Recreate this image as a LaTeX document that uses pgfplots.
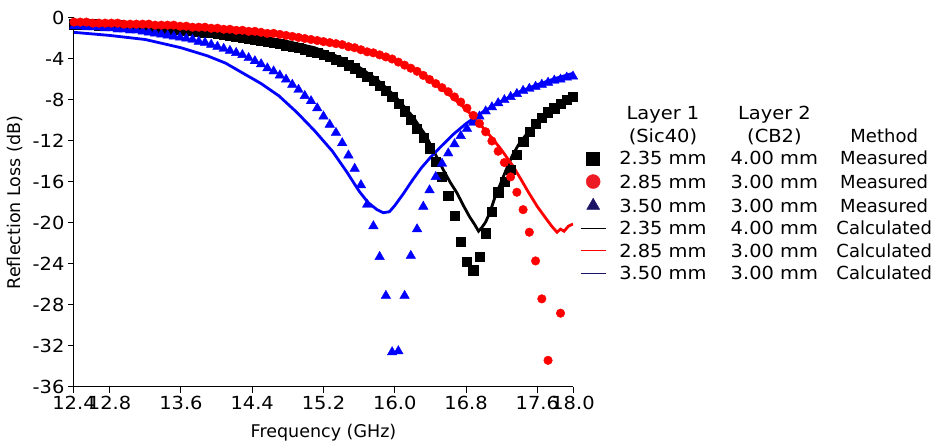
\documentclass[border=0pt]{standalone}
\usepackage{fontspec}
\setmainfont{DejaVu Sans}
\newfontfamily\wide{DejaVu Sans}[FakeStretch=1.08]
\newfontfamily\narrow{DejaVu Sans}[FakeStretch=1.0]
\usepackage{pgfplots}
\pgfplotsset{compat=1.18}
\definecolor{legred}{HTML}{ED1C24}
\definecolor{navy}{HTML}{1B1464}
\pgfplotsset{
  leg/.style={legend image code/.code={\draw[mark repeat=2,mark phase=2,##1] plot coordinates {(0pt,0pt)(12.5pt,0pt)(25pt,0pt)};}},
  legline/.style={legend image code/.code={\draw[##1, draw=#1, line width=1pt] (0pt,0pt) -- (25pt,0pt);}},
}
\newcommand{\cols}[3]{\makebox[111.5pt][c]{#1}\makebox[111.5pt][c]{#2}\makebox[108pt][c]{\narrow #3}}
\begin{document}
\begin{tikzpicture}
\path[use as bounding box] (-74pt,-56pt) rectangle (861pt,387pt);
\begin{axis}[
  scale only axis, width=499pt, height=369pt,
  xmin=12.4, xmax=18.0, ymin=-36, ymax=0,
  axis x line*=bottom, axis y line*=left,
  axis line style={-, line width=1pt},
  tick align=outside, major tick length=6pt,
  tick style={line width=1pt, black},
  xtick={12.4,12.8,13.6,14.4,15.2,16.0,16.8,17.6,18.0},
  ytick={-36,-32,...,0},
  xticklabel style={/pgf/number format/fixed, /pgf/number format/fixed zerofill, /pgf/number format/precision=1},
  /pgf/number format/assume math mode=true,
  ticklabel style={font=\fontsize{18}{20}\wide},
  xlabel={Frequency (GHz)}, ylabel={Reflection Loss (dB)},
  label style={font=\fontsize{17.5}{20}\selectfont},
  xlabel style={yshift=-7pt},
  ylabel style={yshift=3pt},
  legend cell align=left,
  legend style={at={(1.014,0.760)}, anchor=north west, draw=none, fill=none,
    inner sep=0pt, row sep=9.6pt,
    font=\fontsize{18}{20}\wide,
    nodes={inner sep=0pt, text height=13pt, text depth=0pt},
    /tikz/every odd column/.append style={column sep=1pt}},
]
% calculated, 2.35 / 4.00
\addplot[forget plot, black, line width=2.8pt] coordinates {
(12.4,-0.5)(13.0,-0.7)(13.5,-0.9)(14.0,-1.3)(14.5,-1.9)(14.8,-2.3)(15.1,-2.9)(15.4,-3.9)(15.6,-4.8)(15.8,-6.0)(16.0,-7.6)(16.2,-9.6)(16.35,-11.5)(16.45,-13.2)(16.55,-14.9)(16.62,-16.0)(16.7,-17.1)(16.77,-18.3)(16.84,-19.4)(16.9,-20.2)(16.94,-20.8)(16.98,-20.4)(17.02,-19.9)(17.07,-18.9)(17.12,-17.6)(17.18,-16.3)(17.25,-14.8)(17.32,-13.4)(17.4,-12.2)(17.5,-11.1)(17.6,-10.2)(17.7,-9.4)(17.8,-8.7)(17.9,-8.1)(18.0,-7.6)};
% measured, 2.35 / 4.00
\addplot[forget plot, only marks, mark=square*, mark size=4.6pt, black] coordinates {
(12.40,-0.6)(12.47,-0.6)(12.54,-0.6)(12.61,-0.6)(12.68,-0.7)(12.75,-0.7)(12.82,-0.7)(12.89,-0.7)(12.96,-0.8)(13.03,-0.8)(13.10,-0.8)(13.17,-0.9)(13.24,-0.9)(13.31,-0.9)(13.38,-1.0)(13.45,-1.0)(13.52,-1.1)(13.59,-1.1)(13.66,-1.2)(13.73,-1.2)(13.80,-1.3)(13.87,-1.4)(13.94,-1.4)(14.01,-1.5)(14.08,-1.6)(14.15,-1.7)(14.22,-1.8)(14.29,-1.9)(14.36,-2.0)(14.43,-2.1)(14.50,-2.2)(14.57,-2.3)(14.64,-2.4)(14.71,-2.5)(14.78,-2.7)(14.85,-2.8)(14.92,-2.9)(14.99,-3.1)(15.06,-3.3)(15.13,-3.4)(15.20,-3.6)(15.27,-3.8)(15.34,-4.1)(15.41,-4.3)(15.48,-4.6)(15.55,-4.9)(15.62,-5.3)(15.69,-5.7)(15.76,-6.1)(15.83,-6.6)(15.90,-7.1)(15.97,-7.7)(16.04,-8.4)(16.11,-9.1)(16.18,-9.9)(16.25,-10.8)(16.32,-11.7)(16.39,-12.7)(16.46,-14.0)(16.53,-15.5)(16.60,-17.3)(16.67,-19.3)(16.74,-21.8)(16.81,-23.8)(16.88,-24.6)(16.95,-23.3)(17.02,-21.0)(17.09,-18.9)(17.16,-17.0)(17.23,-16.0)(17.30,-14.8)(17.37,-13.3)(17.44,-12.1)(17.51,-11.1)(17.58,-10.3)(17.65,-9.7)(17.72,-9.2)(17.79,-8.8)(17.86,-8.4)(17.93,-8.0)(18.00,-7.7)};
% measured, 3.50 / 3.00
\addplot[forget plot, only marks, mark=triangle*, mark size=5.5pt, blue] coordinates {
(12.40,-0.8)(12.47,-0.8)(12.54,-0.9)(12.61,-0.9)(12.68,-0.9)(12.75,-1.0)(12.82,-1.0)(12.89,-1.1)(12.96,-1.1)(13.03,-1.2)(13.10,-1.2)(13.17,-1.3)(13.24,-1.4)(13.31,-1.5)(13.38,-1.6)(13.45,-1.7)(13.52,-1.8)(13.59,-1.9)(13.66,-2.0)(13.73,-2.1)(13.80,-2.3)(13.87,-2.4)(13.94,-2.6)(14.01,-2.8)(14.08,-3.0)(14.15,-3.2)(14.22,-3.4)(14.29,-3.6)(14.36,-3.9)(14.43,-4.2)(14.50,-4.5)(14.57,-4.9)(14.64,-5.2)(14.71,-5.6)(14.78,-6.0)(14.85,-6.5)(14.92,-7.0)(14.99,-7.6)(15.06,-8.1)(15.13,-8.8)(15.20,-9.6)(15.27,-10.4)(15.34,-11.2)(15.41,-12.2)(15.48,-13.4)(15.55,-14.7)(15.62,-16.3)(15.69,-18.2)(15.76,-20.3)(15.83,-23.3)(15.90,-27.1)(15.97,-32.6)(16.04,-32.5)(16.11,-27.1)(16.18,-23.2)(16.25,-20.6)(16.32,-18.4)(16.39,-16.8)(16.46,-15.5)(16.53,-14.2)(16.60,-13.2)(16.67,-12.3)(16.74,-11.5)(16.81,-10.8)(16.88,-10.2)(16.95,-9.6)(17.02,-9.1)(17.09,-8.7)(17.16,-8.3)(17.23,-8.0)(17.30,-7.7)(17.37,-7.4)(17.44,-7.1)(17.51,-6.9)(17.58,-6.7)(17.65,-6.5)(17.72,-6.3)(17.79,-6.1)(17.86,-6.0)(17.93,-5.8)(18.00,-5.7)};
% calculated, 3.50 / 3.00
\addplot[forget plot, blue, line width=2.8pt] coordinates {
(12.4,-1.4)(12.8,-1.7)(13.2,-2.1)(13.6,-2.9)(13.9,-3.7)(14.1,-4.4)(14.3,-5.4)(14.5,-6.4)(14.7,-7.6)(14.9,-9.2)(15.1,-11.0)(15.3,-13.0)(15.46,-15.0)(15.6,-16.9)(15.7,-18.0)(15.8,-18.7)(15.87,-19.0)(15.94,-18.9)(16.0,-18.3)(16.1,-17.1)(16.2,-15.8)(16.3,-14.6)(16.4,-13.6)(16.5,-12.7)(16.65,-11.4)(16.8,-10.3)(17.0,-9.1)(17.2,-8.1)(17.4,-7.2)(17.6,-6.5)(17.8,-5.9)(18.0,-5.4)};
% measured, 2.85 / 3.00
\addplot[forget plot, only marks, mark=*, mark size=4.3pt, red] coordinates {
(12.40,-0.4)(12.47,-0.4)(12.54,-0.4)(12.61,-0.5)(12.68,-0.5)(12.75,-0.5)(12.82,-0.5)(12.89,-0.5)(12.96,-0.6)(13.03,-0.6)(13.10,-0.6)(13.17,-0.6)(13.24,-0.6)(13.31,-0.7)(13.38,-0.7)(13.45,-0.7)(13.52,-0.7)(13.59,-0.8)(13.66,-0.8)(13.73,-0.9)(13.80,-0.9)(13.87,-0.9)(13.94,-1.0)(14.01,-1.0)(14.08,-1.1)(14.15,-1.1)(14.22,-1.2)(14.29,-1.2)(14.36,-1.3)(14.43,-1.3)(14.50,-1.4)(14.57,-1.5)(14.64,-1.5)(14.71,-1.6)(14.78,-1.7)(14.85,-1.8)(14.92,-1.9)(14.99,-2.0)(15.06,-2.1)(15.13,-2.2)(15.20,-2.3)(15.27,-2.4)(15.34,-2.5)(15.41,-2.6)(15.48,-2.8)(15.55,-2.9)(15.62,-3.1)(15.69,-3.3)(15.76,-3.4)(15.83,-3.6)(15.90,-3.8)(15.97,-4.0)(16.04,-4.3)(16.11,-4.6)(16.18,-4.9)(16.25,-5.2)(16.32,-5.6)(16.39,-6.0)(16.46,-6.4)(16.53,-6.8)(16.60,-7.2)(16.67,-7.7)(16.74,-8.2)(16.81,-8.8)(16.88,-9.5)(16.95,-10.3)(17.02,-11.1)(17.09,-12.0)(17.16,-13.0)(17.23,-14.1)(17.30,-15.5)(17.37,-17.0)(17.44,-18.7)(17.51,-20.9)(17.58,-23.7)(17.65,-27.4)(17.72,-33.4)(17.86,-28.8)};
% calculated, 2.85 / 3.00
\addplot[forget plot, red, line width=2.8pt] coordinates {
(12.4,-0.5)(13.0,-0.6)(13.5,-0.8)(14.0,-1.0)(14.5,-1.4)(15.0,-2.0)(15.5,-2.8)(15.8,-3.5)(16.0,-4.2)(16.2,-5.0)(16.4,-6.1)(16.6,-7.4)(16.8,-8.9)(17.0,-10.8)(17.1,-11.8)(17.2,-12.9)(17.33,-14.5)(17.42,-15.8)(17.5,-17.0)(17.6,-18.4)(17.7,-19.6)(17.76,-20.3)(17.82,-20.9)(17.86,-20.6)(17.9,-20.8)(17.95,-20.3)(18.0,-20.1)};

\addlegendimage{empty legend}
\addlegendentry{\cols{Layer 1}{Layer 2}{}}
\addlegendimage{empty legend}
\addlegendentry{\cols{(Sic40)}{(CB2)}{Method}}
\addlegendimage{only marks, mark=square*, mark size=6.5pt, black, leg}
\addlegendentry{\cols{2.35 mm}{4.00 mm}{Measured}}
\addlegendimage{only marks, mark=*, mark size=7pt, legred, leg}
\addlegendentry{\cols{2.85 mm}{3.00 mm}{Measured}}
\addlegendimage{only marks, mark=triangle*, mark size=7.5pt, navy, leg}
\addlegendentry{\cols{3.50 mm}{3.00 mm}{Measured}}
\addlegendimage{legline=black}
\addlegendentry{\cols{2.35 mm}{4.00 mm}{Calculated}}
\addlegendimage{legline=red}
\addlegendentry{\cols{2.85 mm}{3.00 mm}{Calculated}}
\addlegendimage{legline=navy}
\addlegendentry{\cols{3.50 mm}{3.00 mm}{Calculated}}
\end{axis}
\end{tikzpicture}
\end{document}
